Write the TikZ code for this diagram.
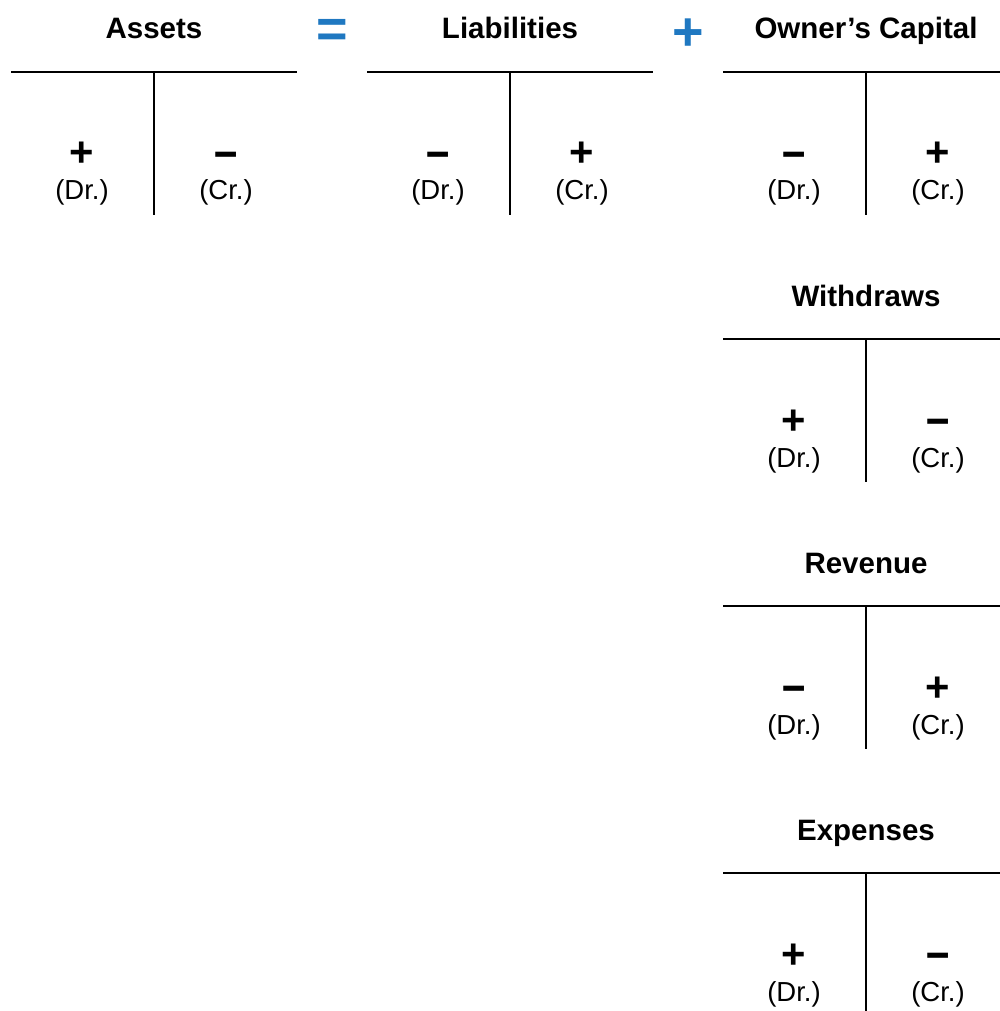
\documentclass[tikz,border=0pt]{standalone}
\usepackage{fontspec}
\setmainfont{Liberation Sans}
\definecolor{opblue}{HTML}{1F78C1}
\tikzset{
  ttl/.style={anchor=base, inner sep=0pt, font=\fontsize{29.5}{34}\selectfont\bfseries},
  sgn/.style={anchor=base, inner sep=0pt, font=\fontsize{38}{40}\selectfont\bfseries},
  lbl/.style={anchor=base, inner sep=0pt, font=\fontsize{27.5}{30}\selectfont},
  op/.style={anchor=base, inner sep=0pt, text=opblue, font=\fontsize{54}{56}\selectfont\bfseries},
  rule/.style={line width=2.4pt, black}
}
\newcommand\SgPlus{\scalebox{1.1}{+}}
\newcommand\SgMinus{\scalebox{1.1}[1.35]{–}}
% #1 name, #2 x centre, #3 title baseline y, #4 title, #5/#6 left/right sign, #7/#8 their baseline offsets, #9 right extent
\newcommand\TAcct[9]{%
  \node[ttl] (#1-t) at (#2,#3) {#4};
  \coordinate (#1-l) at (#2-143,#3+33);
  \coordinate (#1-r) at (#2+#9,#3+33);
  \coordinate (#1-m) at (#2,#3+33);
  \coordinate (#1-b) at (#2,#3+176);
  \draw[rule] (#1-l) -- (#1-r);
  \draw[rule] (#1-m) -- (#1-b);
  \node[sgn] (#1-ls) at (#2-72,#3+#7) {#5};
  \node[sgn] (#1-rs) at (#2+72,#3+#8) {#6};
  \node[lbl] (#1-dr) at (#2-72,#3+161) {(Dr.)};
  \node[lbl] (#1-cr) at (#2+72,#3+161) {(Cr.)};
}
\begin{document}
\begin{tikzpicture}[x=1pt,y=-1pt]
\useasboundingbox (0,0) rectangle (1000,1011);
\TAcct{as}{154}{39}{Assets}{\SgPlus}{\SgMinus}{128}{129}{143}
\TAcct{li}{510}{39}{Liabilities}{\SgMinus}{\SgPlus}{129}{128}{143}
\TAcct{oc}{866}{39}{Owner’s Capital}{\SgMinus}{\SgPlus}{129}{128}{134}
\TAcct{wd}{866}{306}{Withdraws}{\SgPlus}{\SgMinus}{128}{129}{134}
\TAcct{rv}{866}{573}{Revenue}{\SgMinus}{\SgPlus}{129}{128}{134}
\TAcct{ex}{866}{840}{Expenses}{\SgPlus}{\SgMinus}{128}{129}{134}
\node[op] (eq) at (332,48) {=};
\node[op] (pl) at (688,50.8) {+};
\end{tikzpicture}
\end{document}
